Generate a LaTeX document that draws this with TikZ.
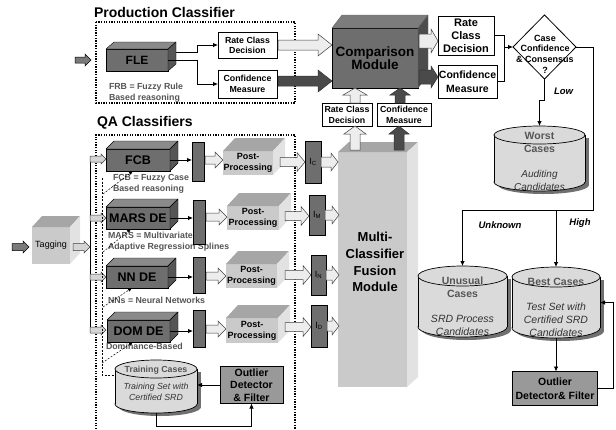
\documentclass[tikz,border=0pt]{standalone}
\usepackage{fontspec}
\setmainfont{Liberation Sans}
\usetikzlibrary{arrows.meta,shapes.geometric,calc}
\definecolor{dk}{HTML}{6E6E6E}
\definecolor{dktop}{HTML}{8A8A8A}
\definecolor{dkside}{HTML}{555555}
\definecolor{cmptop}{HTML}{7C7C7C}
\definecolor{cmpside}{HTML}{4C4C4C}
\definecolor{lt}{HTML}{CACACA}
\definecolor{lttop}{HTML}{A6A6A6}
\definecolor{ltside}{HTML}{E2E2E2}
\definecolor{arrlt}{HTML}{EDEDED}
\definecolor{arrdk}{HTML}{4A4A4A}
\definecolor{arrin}{HTML}{7A7A7A}
\definecolor{cylfill}{HTML}{DADADA}
\definecolor{cylshadow}{HTML}{707070}
\definecolor{txtgray}{HTML}{555555}
\definecolor{outgray}{HTML}{999999}
\newcommand\cubefaces[6]{%
  \path[fill=#4,draw=#6,line width=0.4pt,line join=round] (#1.north west) -- ($(#1.north west)+(#2,-#3)$) -- ($(#1.north east)+(#2,-#3)$) -- (#1.north east) -- cycle;
  \path[fill=#5,draw=#6,line width=0.4pt,line join=round] (#1.north east) -- ($(#1.north east)+(#2,-#3)$) -- ($(#1.south east)+(#2,-#3)$) -- (#1.south east) -- cycle;}
\newcommand\rarr[7]{\draw[#1] (#2,{#4-#5}) -- ({#3-#7},{#4-#5}) -- ({#3-#7},{#4-#6}) -- (#3,#4) -- ({#3-#7},{#4+#6}) -- ({#3-#7},{#4+#5}) -- (#2,{#4+#5}) -- cycle;}
\newcommand\uarr[7]{\draw[#1] ({#2-#5},#3) -- ({#2-#5},{#4+#7}) -- ({#2-#6},{#4+#7}) -- (#2,#4) -- ({#2+#6},{#4+#7}) -- ({#2+#5},{#4+#7}) -- ({#2+#5},#3) -- cycle;}
\newcommand\cyl[6]{%
  \fill[cylshadow] ({#2-#3+4},{#4+#6+3}) rectangle ({#2+#3+4},{#5-#6+3});
  \fill[cylshadow] ({#2+4},{#5-#6+3}) ellipse [x radius=#3pt, y radius=#6pt];
  \filldraw[fill=cylfill,draw=black,line width=0.7pt] (#2,{#5-#6}) ellipse [x radius=#3pt, y radius=#6pt];
  \fill[cylfill] ({#2-#3},{#4+#6}) rectangle ({#2+#3},{#5-#6});
  \draw[black,line width=0.7pt] ({#2-#3},{#4+#6}) -- ({#2-#3},{#5-#6}) ({#2+#3},{#4+#6}) -- ({#2+#3},{#5-#6});
  \filldraw[fill=cylfill,draw=black,line width=0.7pt] (#2,{#4+#6}) ellipse [x radius=#3pt, y radius=#6pt];
  \node[minimum width={2*#3pt}, minimum height={(#5-#4)*1pt}] (#1) at (#2,{(#4+#5)/2}) {};}
\begin{document}
\begin{tikzpicture}[x=1pt,y=-1pt,
  every node/.style={inner sep=0pt, outer sep=0pt},
  title/.style={font=\bfseries\fontsize{14}{16}\selectfont},
  conn/.style={draw=black, line width=0.8pt},
  arr/.style={conn, -{Latex[length=5pt,width=4.5pt]}},
  dashline/.style={draw=black, line width=0.5pt, dash pattern=on 2pt off 1.5pt},
  dasharr/.style={dashline, -{Latex[length=4pt,width=3.5pt]}},
  dotbox/.style={draw=black, line width=1.5pt, dash pattern=on 1.3pt off 1.3pt},
  dkcube/.style={fill=dk, draw=black, line width=0.4pt, font=\bfseries\fontsize{12.5}{13}\selectfont},
  ltcube/.style={fill=lt, align=center},
  postbox/.style={ltcube, font=\bfseries\fontsize{9}{11}\selectfont},
  bar/.style={fill=dk, draw=black, line width=0.6pt, minimum width=12pt},
  ibox/.style={fill=dk, draw=black, line width=0.6pt, font=\fontsize{9}{10}\selectfont},
  wbox/.style={fill=white, draw=black, line width=0.8pt, align=center},
  lbl/.style={font=\bfseries\fontsize{8.8}{11}\selectfont, text=txtgray, align=left},
  edgelbl/.style={font=\bfseries\itshape\fontsize{9.5}{11}\selectfont},
  cylhead/.style={font=\bfseries\fontsize{10.5}{12.5}\selectfont, text=txtgray, align=center},
  cylit/.style={font=\itshape\fontsize{10.5}{13}\selectfont, text=black!80, align=center},
  outbox/.style={fill=outgray, draw=black, line width=0.8pt, align=center, font=\bfseries\fontsize{10.5}{12.5}\selectfont},
  ltarr/.style={fill=arrlt, draw=black!75, line width=0.5pt, line join=miter},
  dkarr/.style={fill=arrdk, draw=black!80, line width=0.5pt, line join=miter},
  inarr/.style={fill=arrin, draw=black, line width=0.5pt, line join=miter},
  smltarr/.style={fill=arrlt!90!black, draw=black!75, line width=0.5pt, line join=miter}
]
\useasboundingbox (0,0) rectangle (616,429);
\fill[white] (0,0) rectangle (616,429);

% titles
\node[title, anchor=west] (tprod) at (94,12.5) {Production Classifier};
\node[title, anchor=west] (tqa) at (97,123) {QA Classifiers};

% dotted frames
\draw[dotbox] (96,22) rectangle (295,103);
\draw[dotbox] (96,429) -- (96,135) -- (295,135) -- (295,429);

% ---------- production classifier ----------
\rarr{inarr}{75}{91}{60}{3}{6}{6}
\node[dkcube, font=\bfseries\fontsize{12}{13}\selectfont, minimum width=62pt, minimum height=22pt] (FLE) at (137,60) {FLE};
\cubefaces{FLE}{8}{7}{dktop}{dkside}{black}
\node[lbl, anchor=west] (frb) at (109,92.5) {FRB = Fuzzy Rule\\Based reasoning};
\node[wbox, font=\bfseries\fontsize{8.8}{10}\selectfont, minimum width=59pt, minimum height=26pt] (rate1) at (247.5,45) {Rate Class\\Decision};
\node[wbox, font=\bfseries\fontsize{8.8}{11}\selectfont, minimum width=59pt, minimum height=28pt] (conf1) at (247.5,84) {Confidence\\Measure};
\draw[arr] ($(FLE.east)+(8,-8)$) -- ++(21,0) |- (rate1.west);
\draw[arr] (FLE.east) -- ++(29,0) |- (conf1.west);

% ---------- comparison module ----------
\rarr{ltarr}{278}{332}{45}{5}{11}{14}
\rarr{dkarr}{278}{332}{81}{5}{11}{14}
\node[dkcube, font=\bfseries\fontsize{13.5}{13.5}\selectfont, align=center, minimum width=86pt, minimum height=60pt] (cmp) at (375,58) {Comparison\\Module};
\cubefaces{cmp}{10}{13}{cmptop}{cmpside}{black!60}
\rarr{ltarr}{419}{438}{41}{7}{12}{7}
\rarr{dkarr}{419}{438}{77}{7}{11}{7}
\node[wbox, font=\bfseries\fontsize{11}{13}\selectfont, minimum width=56pt, minimum height=39pt] (rate2) at (466,35.5) {Rate\\Class\\Decision};
\node[wbox, font=\bfseries\fontsize{10.5}{13.5}\selectfont, minimum width=59pt, minimum height=33pt] (conf2) at (467.5,81.5) {Confidence\\Measure};

% decision diamond
\node[diamond, draw=black, line width=0.8pt, fill=white, minimum width=63pt, minimum height=64pt] (dia) at (544.5,47) {};
\node[font=\bfseries\fontsize{9}{10.7}\selectfont, align=center] (diat) at (545,54) {Case\\Confidence\\\& Consensus\\?};
\coordinate (j1) at ($(dia.west)+(-9,0)$);
\draw[conn] (rate2.east) -| (j1);
\draw[conn] (conf2.east) -| (j1);
\draw[arr] (j1) -- (dia.west);

% fusion module
\node[ltcube, minimum width=69pt, minimum height=235pt] (fus) at (372.5,269.5) {};
\cubefaces{fus}{11}{10}{lttop}{ltside}{none}
\node[font=\bfseries\fontsize{13}{16.7}\selectfont, align=center] (fust) at (375,262) {Multi-\\Classifier\\Fusion\\Module};

% small boxes between fusion and comparison
\node[wbox, font=\bfseries\fontsize{8.8}{11}\selectfont, minimum width=50pt, minimum height=23pt] (rate3) at (347,114.5) {Rate Class\\Decision};
\node[wbox, font=\bfseries\fontsize{8.8}{11}\selectfont, minimum width=54pt, minimum height=23pt] (conf3) at (404,114.5) {Confidence\\Measure};
\uarr{ltarr}{355}{103}{88}{5}{12}{7}
\uarr{dkarr}{400}{103}{88}{5}{10}{7}
\uarr{ltarr}{355}{150}{126}{5}{11}{8}
\uarr{dkarr}{399}{150}{126}{5}{10}{8}

% ---------- QA classifiers ----------
\rarr{inarr}{12}{29}{247}{3.5}{6}{6}
\node[ltcube, font=\fontsize{9}{11}\selectfont, minimum width=38pt, minimum height=37pt] (tag) at (51,245.5) {Tagging};
\cubefaces{tag}{10}{11}{lttop}{ltside}{none}
\rarr{smltarr}{73}{90}{247}{3.5}{6}{6}
\coordinate (bus1) at (90,159);
\coordinate (bus2) at (90,330);
\draw[conn] (bus1) -- (bus2);
\rarr{smltarr}{90}{106}{159}{3}{5}{5}
\rarr{smltarr}{90}{106}{218}{3}{5}{5}
\rarr{smltarr}{90}{106}{277}{3}{5}{5}
\rarr{smltarr}{90}{106}{330}{3}{5}{5}

\node[dkcube, minimum width=64pt, minimum height=22pt] (fcb) at (138,160) {FCB};
\cubefaces{fcb}{8}{8}{dktop}{dkside}{black}
\node[dkcube, minimum width=64pt, minimum height=22pt] (mars) at (138,218) {MARS DE};
\cubefaces{mars}{8}{8}{dktop}{dkside}{black}
\node[dkcube, minimum width=62pt, minimum height=22pt] (nn) at (137,277) {NN DE};
\cubefaces{nn}{8}{8}{dktop}{dkside}{black}
\node[dkcube, minimum width=63pt, minimum height=22pt] (dom) at (138.5,331) {DOM DE};
\cubefaces{dom}{8}{8}{dktop}{dkside}{black}

\node[lbl, anchor=west] (lfcb) at (113,184) {FCB = Fuzzy Case\\Based reasoning};
\node[lbl, anchor=west] (lmars) at (108,242) {MARS = Multivariate\\Adaptive Regression Splines};
\node[lbl, anchor=west] (lnn) at (108,300) {NNs = Neural Networks};
\node[lbl, anchor=west] (ldom) at (106,346) {Dominance-Based};

\node[bar, minimum height=39pt] (b1) at (198,161.5) {};
\node[bar, minimum height=44pt] (b2) at (199,222) {};
\node[bar, minimum height=36pt] (b3) at (199,275) {};
\node[bar, minimum height=37pt] (b4) at (199,328.5) {};
\draw[arr] (fcb.east) -- (fcb.east -| b1.west);
\draw[arr] (mars.east) -- (mars.east -| b2.west);
\draw[arr] (nn.east) -- (nn.east -| b3.west);
\draw[arr] (dom.east) -- (dom.east -| b4.west);

\rarr{ltarr}{205}{223}{160}{4}{8}{8}
\rarr{ltarr}{206}{227}{217}{4}{8}{8}
\rarr{ltarr}{206}{226}{276}{4}{8}{8}
\rarr{ltarr}{206}{226}{329}{4}{8}{8}

\node[postbox, minimum width=50pt, minimum height=24pt] (p1) at (248,163) {Post-\\Processing};
\cubefaces{p1}{12}{13}{lttop}{ltside}{none}
\node[postbox, minimum width=52pt, minimum height=24pt] (p2) at (253,218) {Post-\\Processing};
\cubefaces{p2}{12}{13}{lttop}{ltside}{none}
\node[postbox, minimum width=51pt, minimum height=24pt] (p3) at (251.5,276) {Post-\\Processing};
\cubefaces{p3}{12}{13}{lttop}{ltside}{none}
\node[postbox, minimum width=52pt, minimum height=25pt] (p4) at (252,330.5) {Post-\\Processing};
\cubefaces{p4}{12}{13}{lttop}{ltside}{none}

\rarr{ltarr}{280}{305}{162}{4.5}{9.5}{8}
\rarr{ltarr}{285}{309}{216}{4.5}{9.5}{8}
\rarr{ltarr}{285}{311}{275}{4.5}{9.5}{8}
\rarr{ltarr}{285}{311}{327}{4.5}{9.5}{8}

\node[ibox, minimum width=16pt, minimum height=42pt] (ic) at (313,162) {I\textsubscript{C}};
\node[ibox, minimum width=16pt, minimum height=40pt] (im) at (317,215) {I\textsubscript{M}};
\node[ibox, minimum width=15pt, minimum height=40pt] (in) at (318.5,275) {I\textsubscript{N}};
\node[ibox, minimum width=16pt, minimum height=42pt] (id) at (319,326) {I\textsubscript{D}};

\rarr{ltarr}{321}{338}{162}{5}{9}{7}
\rarr{ltarr}{325}{339}{215}{5}{9}{7}
\rarr{ltarr}{326}{339}{275}{5}{9}{7}
\rarr{ltarr}{327}{339}{326}{5}{9}{7}

% training cases and outlier filter (left)
\cyl{training}{156}{41}{360}{413}{9}
\node[font=\bfseries\fontsize{8.8}{10}\selectfont, text=txtgray] (trh) at (156,370) {Training Cases};
\node[font=\itshape\fontsize{8.8}{11}\selectfont, align=center, text=black!80] (trt) at (156,391.5) {Training Set with\\Certified SRD};
\node[outbox, minimum width=63pt, minimum height=37pt] (out1) at (251.5,385) {Outlier\\Detector\\\& Filter};
\draw[arr] (out1.west) -- (out1.west -| training.east);
\draw[arr] (training.south) -- ++(0,13) -| (out1.south);

\coordinate (d1) at (102,178);
\coordinate (d2) at (102,375);
\draw[dashline] (d1) -- (d2) -- (d2 -| training.west);
\draw[dasharr] (103,194) -- ($(fcb.south west)+(27,0)$);
\draw[dasharr] (103,252) -- ($(mars.south west)+(25,0)$);
\draw[dasharr] (103,307) -- ($(nn.south west)+(26,0)$);
\draw[dasharr] (102,363) -- ($(dom.south west)+(26,0)$);

% ---------- result databases ----------
\cyl{worst}{539.5}{45.5}{126}{191}{9}
\node[cylhead] (wh) at (539.5,142.5) {Worst\\Cases};
\node[cylit, font=\itshape\fontsize{10}{13}\selectfont] (wt) at (539.5,180) {Auditing\\Candidates};
\draw[arr] (dia.south) -- ++(0,21) -| (worst.north);
\node[edgelbl, anchor=west] (llow) at (554,91) {Low};

\cyl{unusual}{462.5}{44.5}{266}{337}{10}
\node[cylhead] (uh) at (462.5,287) {Unusual\\Cases};
\node[cylit] (ut) at (462.5,325) {SRD Process\\Candidates};
\cyl{best}{556}{44}{267}{338}{10}
\node[cylhead] (bh) at (556,282) {Best Cases};
\node[cylit] (bt) at (556,319.5) {Test Set with\\Certified SRD\\Candidates};

\coordinate (hb) at (593,210);
\draw[conn] (dia.east) -| (hb) -- (hb -| unusual.north);
\draw[arr] (hb -| unusual.north) -- (unusual.north);
\draw[arr] (hb -| best.north) -- (best.north);
\node[edgelbl] (lunk) at (500,225) {Unknown};
\node[edgelbl] (lhigh) at (580,223) {High};

\node[outbox, minimum width=85pt, minimum height=34pt, font=\bfseries\fontsize{10.5}{13.5}\selectfont] (out2) at (555,388.5) {Outlier\\Detector\& Filter};
\draw[arr] (best.south) -- (best.south |- out2.north);
\draw[arr] (out2.east) -- ++(16,0) |- (best.east);
\end{tikzpicture}
\end{document}
